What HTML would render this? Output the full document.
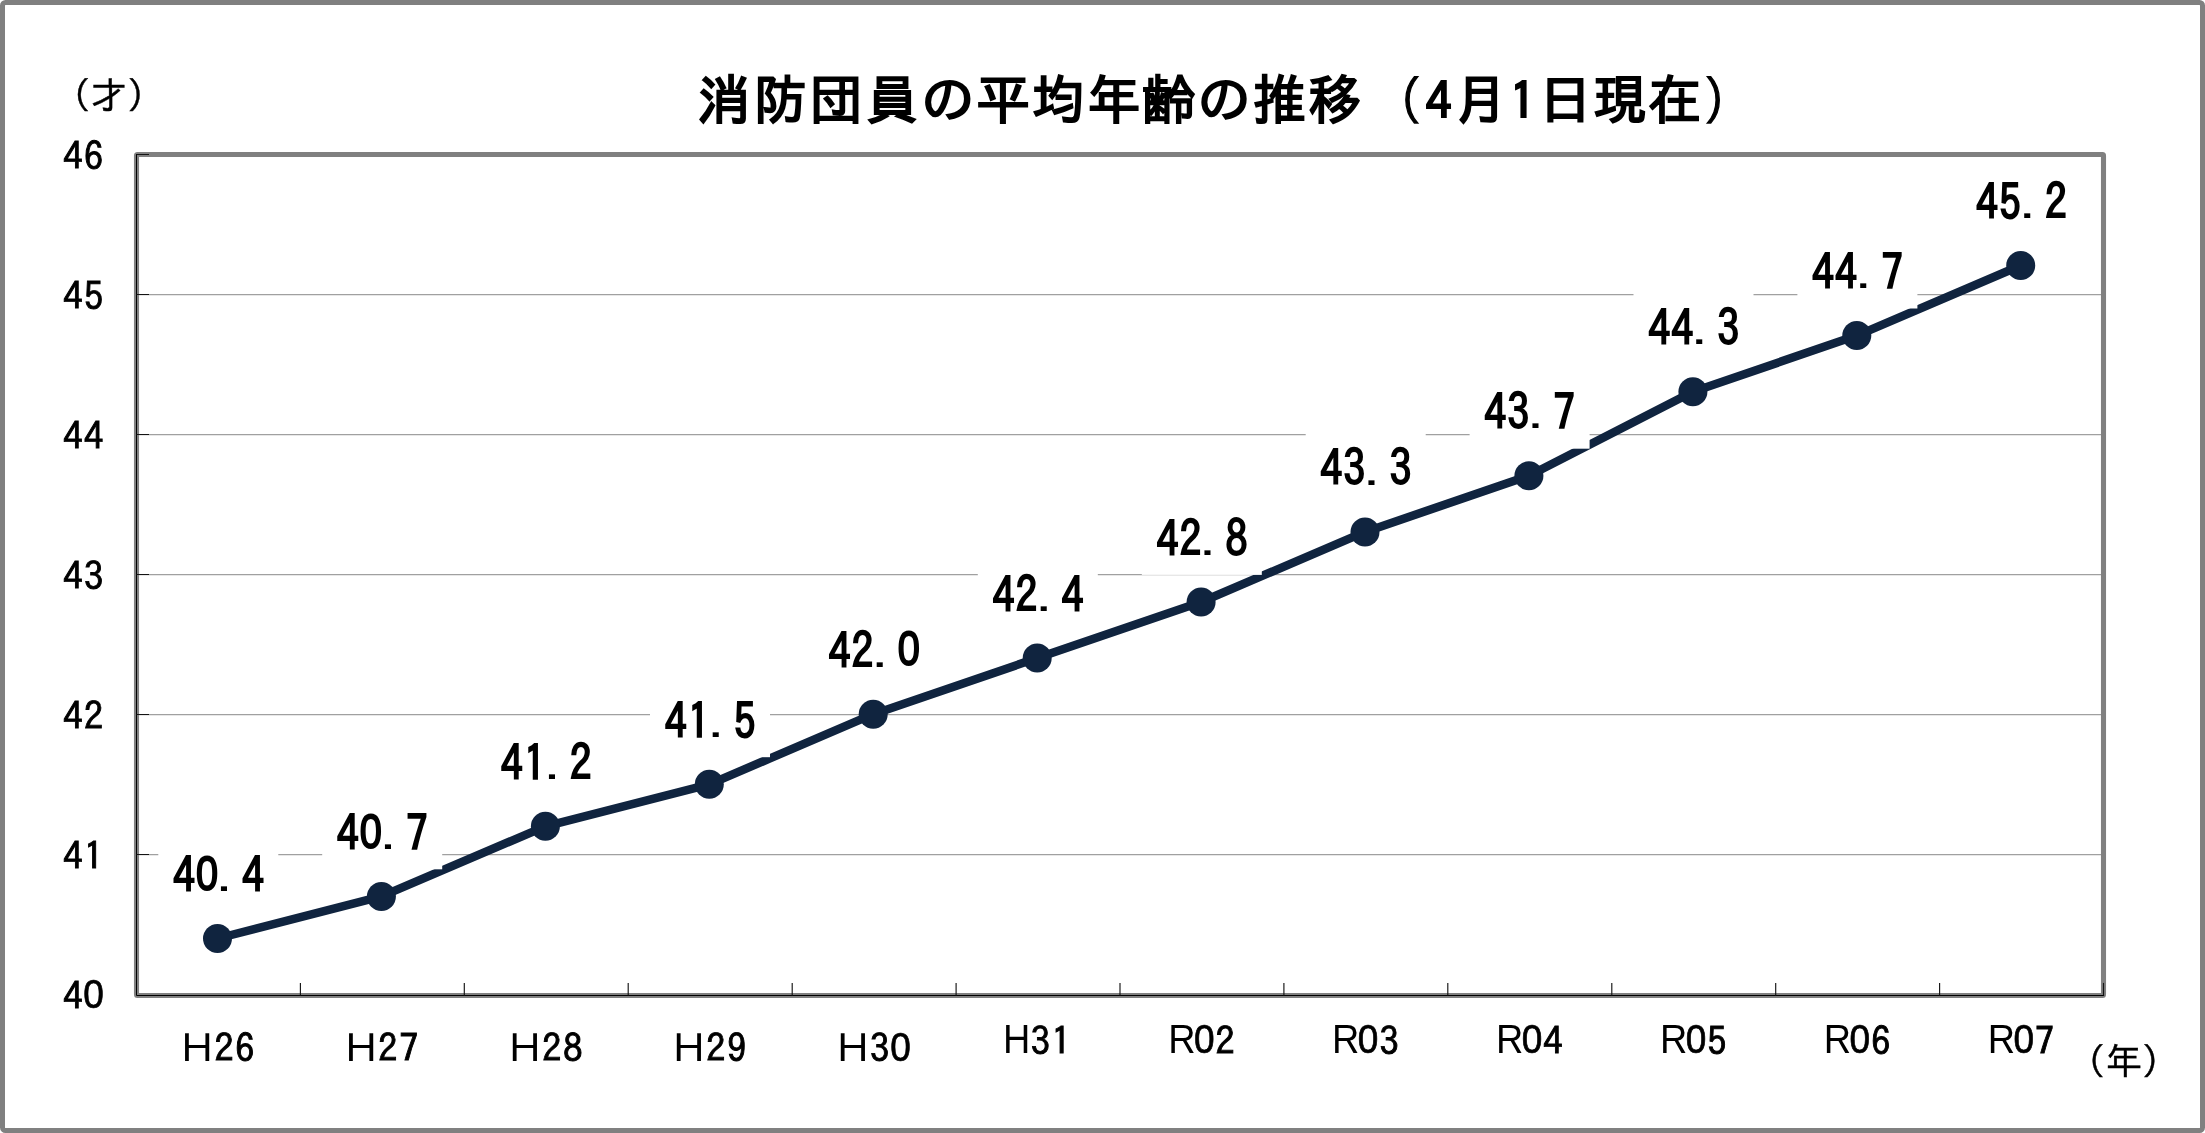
<!DOCTYPE html>
<html lang="ja">
<head>
<meta charset="utf-8">
<title>消防団員の平均年齢の推移</title>
<style>
html,body{margin:0;padding:0;background:#fff;}
body{width:2205px;height:1133px;overflow:hidden;}
svg{display:block;will-change:transform;}
text{font-family:"Liberation Sans","IPAGothic","Noto Sans CJK JP",sans-serif;fill:#000;}
.d,.dp,.a,.td{font-family:"IPAGothic","Liberation Sans",sans-serif;}
.z{font-family:"Liberation Sans",sans-serif;}
.t{font-size:53.33px;stroke:#000;stroke-width:2px;}
.td{font-size:51.1px;stroke:#000;stroke-width:2px;}
.tp{font-size:51.6px;stroke:#000;stroke-width:1.4px;}
.d{font-size:48.9px;stroke:#000;stroke-width:1.9px;}
.dz{font-family:"Liberation Sans",sans-serif;font-size:48.7px;stroke:#000;stroke-width:1.9px;}
.a{font-size:38.3px;stroke:#000;stroke-width:0.9px;}
.ah{font-size:39.5px;}
.az{font-family:"Liberation Sans",sans-serif;font-size:40.0px;stroke:#000;stroke-width:0.7px;}
.dp{font-size:35px;}
.l{font-family:"Liberation Sans",sans-serif;font-size:40.7px;}
.u{font-size:36.5px;stroke:#000;stroke-width:0.4px;}
</style>
</head>
<body>
<svg width="2205" height="1133" viewBox="0 0 2205 1133">
<rect x="0" y="0" width="2205" height="1133" fill="#fff"/>
<rect x="2.5" y="2.5" width="2200" height="1128" rx="3" ry="3" fill="none" stroke="#808080" stroke-width="5"/>
<line x1="136.5" y1="294.57" x2="2103.5" y2="294.57" stroke="#a0a0a0" stroke-width="1.14"/>
<line x1="136.5" y1="434.57" x2="2103.5" y2="434.57" stroke="#a0a0a0" stroke-width="1.14"/>
<line x1="136.5" y1="574.57" x2="2103.5" y2="574.57" stroke="#a0a0a0" stroke-width="1.14"/>
<line x1="136.5" y1="714.57" x2="2103.5" y2="714.57" stroke="#a0a0a0" stroke-width="1.14"/>
<line x1="136.5" y1="854.57" x2="2103.5" y2="854.57" stroke="#a0a0a0" stroke-width="1.14"/>
<rect x="136.5" y="154.5" width="1967.0" height="841.0" rx="1" fill="none" stroke="#808080" stroke-width="5.1"/>
<polyline points="136.5,154.0 136.5,995.5 2104.1,995.5" fill="none" stroke="#000" stroke-width="1"/>
<line x1="136.5" y1="154.5" x2="149.0" y2="154.5" stroke="#141414" stroke-width="1.05"/>
<line x1="136.5" y1="294.5" x2="149.0" y2="294.5" stroke="#141414" stroke-width="1.05"/>
<line x1="136.5" y1="434.5" x2="149.0" y2="434.5" stroke="#141414" stroke-width="1.05"/>
<line x1="136.5" y1="574.5" x2="149.0" y2="574.5" stroke="#141414" stroke-width="1.05"/>
<line x1="136.5" y1="714.5" x2="149.0" y2="714.5" stroke="#141414" stroke-width="1.05"/>
<line x1="136.5" y1="854.5" x2="149.0" y2="854.5" stroke="#141414" stroke-width="1.05"/>
<line x1="300.4" y1="982.9" x2="300.4" y2="995.5" stroke="#141414" stroke-width="1.15"/>
<line x1="464.3" y1="982.9" x2="464.3" y2="995.5" stroke="#141414" stroke-width="1.15"/>
<line x1="628.2" y1="982.9" x2="628.2" y2="995.5" stroke="#141414" stroke-width="1.15"/>
<line x1="792.2" y1="982.9" x2="792.2" y2="995.5" stroke="#141414" stroke-width="1.15"/>
<line x1="956.1" y1="982.9" x2="956.1" y2="995.5" stroke="#141414" stroke-width="1.15"/>
<line x1="1120.0" y1="982.9" x2="1120.0" y2="995.5" stroke="#141414" stroke-width="1.15"/>
<line x1="1283.9" y1="982.9" x2="1283.9" y2="995.5" stroke="#141414" stroke-width="1.15"/>
<line x1="1447.8" y1="982.9" x2="1447.8" y2="995.5" stroke="#141414" stroke-width="1.15"/>
<line x1="1611.8" y1="982.9" x2="1611.8" y2="995.5" stroke="#141414" stroke-width="1.15"/>
<line x1="1775.7" y1="982.9" x2="1775.7" y2="995.5" stroke="#141414" stroke-width="1.15"/>
<line x1="1939.6" y1="982.9" x2="1939.6" y2="995.5" stroke="#141414" stroke-width="1.15"/>
<line x1="2103.5" y1="982.9" x2="2103.5" y2="995.5" stroke="#141414" stroke-width="1.15"/>
<polyline points="217.5,938.5 381.4,896.4 545.4,826.3 709.3,784.3 873.2,714.2 1037.2,658.1 1201.1,602.0 1365.0,531.9 1528.9,475.8 1692.9,391.7 1856.8,335.6 2020.7,265.5" fill="none" stroke="#10243f" stroke-width="8.5" stroke-linejoin="round" stroke-linecap="round"/>
<circle cx="217.5" cy="938.5" r="14.5" fill="#10243f"/>
<circle cx="381.4" cy="896.4" r="14.5" fill="#10243f"/>
<circle cx="545.4" cy="826.3" r="14.5" fill="#10243f"/>
<circle cx="709.3" cy="784.3" r="14.5" fill="#10243f"/>
<circle cx="873.2" cy="714.2" r="14.5" fill="#10243f"/>
<circle cx="1037.2" cy="658.1" r="14.5" fill="#10243f"/>
<circle cx="1201.1" cy="602.0" r="14.5" fill="#10243f"/>
<circle cx="1365.0" cy="531.9" r="14.5" fill="#10243f"/>
<circle cx="1528.9" cy="475.8" r="14.5" fill="#10243f"/>
<circle cx="1692.9" cy="391.7" r="14.5" fill="#10243f"/>
<circle cx="1856.8" cy="335.6" r="14.5" fill="#10243f"/>
<circle cx="2020.7" cy="265.5" r="14.5" fill="#10243f"/>
<rect x="158.3" y="837.4" width="120" height="74" fill="#fff"/>
<rect x="322.2" y="795.3" width="120" height="74" fill="#fff"/>
<rect x="486.1" y="725.2" width="120" height="74" fill="#fff"/>
<rect x="650.0" y="683.2" width="120" height="74" fill="#fff"/>
<rect x="813.9" y="613.1" width="120" height="74" fill="#fff"/>
<rect x="977.8" y="557.0" width="120" height="74" fill="#fff"/>
<rect x="1141.8" y="500.9" width="120" height="74" fill="#fff"/>
<rect x="1305.7" y="430.8" width="120" height="74" fill="#fff"/>
<rect x="1469.6" y="374.7" width="120" height="74" fill="#fff"/>
<rect x="1633.5" y="290.6" width="120" height="74" fill="#fff"/>
<rect x="1797.4" y="234.5" width="120" height="74" fill="#fff"/>
<rect x="1961.3" y="164.4" width="120" height="74" fill="#fff"/>
<text><tspan class="d" x="173.16" y="893.11" textLength="21.52" lengthAdjust="spacingAndGlyphs">4</tspan><tspan class="dz" x="195.91" y="889.71" textLength="22.07" lengthAdjust="spacingAndGlyphs">0</tspan><tspan class="dp" x="216.86" y="891.21" textLength="22.75" lengthAdjust="spacingAndGlyphs">.</tspan><tspan class="d" x="242.25" y="893.11" textLength="21.52" lengthAdjust="spacingAndGlyphs">4</tspan></text>
<text><tspan class="d" x="337.07" y="851.05" textLength="21.52" lengthAdjust="spacingAndGlyphs">4</tspan><tspan class="dz" x="359.83" y="847.65" textLength="22.07" lengthAdjust="spacingAndGlyphs">0</tspan><tspan class="dp" x="380.77" y="849.15" textLength="22.75" lengthAdjust="spacingAndGlyphs">.</tspan><tspan class="d" x="406.16" y="851.05" textLength="21.52" lengthAdjust="spacingAndGlyphs">7</tspan></text>
<text><tspan class="d" x="500.99" y="780.94" textLength="21.52" lengthAdjust="spacingAndGlyphs">4</tspan><tspan class="d" x="524.02" y="780.94" textLength="21.52" lengthAdjust="spacingAndGlyphs">1</tspan><tspan class="dp" x="544.69" y="779.04" textLength="22.75" lengthAdjust="spacingAndGlyphs">.</tspan><tspan class="d" x="570.08" y="780.94" textLength="21.52" lengthAdjust="spacingAndGlyphs">2</tspan></text>
<text><tspan class="d" x="664.91" y="738.87" textLength="21.52" lengthAdjust="spacingAndGlyphs">4</tspan><tspan class="d" x="687.94" y="738.87" textLength="21.52" lengthAdjust="spacingAndGlyphs">1</tspan><tspan class="dp" x="708.61" y="736.97" textLength="22.75" lengthAdjust="spacingAndGlyphs">.</tspan><tspan class="d" x="734.00" y="738.87" textLength="21.52" lengthAdjust="spacingAndGlyphs">5</tspan></text>
<text><tspan class="d" x="828.82" y="668.76" textLength="21.52" lengthAdjust="spacingAndGlyphs">4</tspan><tspan class="d" x="851.85" y="668.76" textLength="21.52" lengthAdjust="spacingAndGlyphs">2</tspan><tspan class="dp" x="872.52" y="666.86" textLength="22.75" lengthAdjust="spacingAndGlyphs">.</tspan><tspan class="dz" x="897.64" y="665.36" textLength="22.07" lengthAdjust="spacingAndGlyphs">0</tspan></text>
<text><tspan class="d" x="992.74" y="612.67" textLength="21.52" lengthAdjust="spacingAndGlyphs">4</tspan><tspan class="d" x="1015.77" y="612.67" textLength="21.52" lengthAdjust="spacingAndGlyphs">2</tspan><tspan class="dp" x="1036.44" y="610.77" textLength="22.75" lengthAdjust="spacingAndGlyphs">.</tspan><tspan class="d" x="1061.83" y="612.67" textLength="21.52" lengthAdjust="spacingAndGlyphs">4</tspan></text>
<text><tspan class="d" x="1156.66" y="556.58" textLength="21.52" lengthAdjust="spacingAndGlyphs">4</tspan><tspan class="d" x="1179.69" y="556.58" textLength="21.52" lengthAdjust="spacingAndGlyphs">2</tspan><tspan class="dp" x="1200.36" y="554.68" textLength="22.75" lengthAdjust="spacingAndGlyphs">.</tspan><tspan class="d" x="1225.75" y="556.58" textLength="21.52" lengthAdjust="spacingAndGlyphs">8</tspan></text>
<text><tspan class="d" x="1320.57" y="486.47" textLength="21.52" lengthAdjust="spacingAndGlyphs">4</tspan><tspan class="d" x="1343.60" y="486.47" textLength="21.52" lengthAdjust="spacingAndGlyphs">3</tspan><tspan class="dp" x="1364.28" y="484.57" textLength="22.75" lengthAdjust="spacingAndGlyphs">.</tspan><tspan class="d" x="1389.66" y="486.47" textLength="21.52" lengthAdjust="spacingAndGlyphs">3</tspan></text>
<text><tspan class="d" x="1484.49" y="430.39" textLength="21.52" lengthAdjust="spacingAndGlyphs">4</tspan><tspan class="d" x="1507.52" y="430.39" textLength="21.52" lengthAdjust="spacingAndGlyphs">3</tspan><tspan class="dp" x="1528.19" y="428.49" textLength="22.75" lengthAdjust="spacingAndGlyphs">.</tspan><tspan class="d" x="1553.58" y="430.39" textLength="21.52" lengthAdjust="spacingAndGlyphs">7</tspan></text>
<text><tspan class="d" x="1648.41" y="346.25" textLength="21.52" lengthAdjust="spacingAndGlyphs">4</tspan><tspan class="d" x="1671.44" y="346.25" textLength="21.52" lengthAdjust="spacingAndGlyphs">4</tspan><tspan class="dp" x="1692.11" y="344.35" textLength="22.75" lengthAdjust="spacingAndGlyphs">.</tspan><tspan class="d" x="1717.50" y="346.25" textLength="21.52" lengthAdjust="spacingAndGlyphs">3</tspan></text>
<text><tspan class="d" x="1812.32" y="290.17" textLength="21.52" lengthAdjust="spacingAndGlyphs">4</tspan><tspan class="d" x="1835.35" y="290.17" textLength="21.52" lengthAdjust="spacingAndGlyphs">4</tspan><tspan class="dp" x="1856.03" y="288.27" textLength="22.75" lengthAdjust="spacingAndGlyphs">.</tspan><tspan class="d" x="1881.41" y="290.17" textLength="21.52" lengthAdjust="spacingAndGlyphs">7</tspan></text>
<text><tspan class="d" x="1976.24" y="220.06" textLength="21.52" lengthAdjust="spacingAndGlyphs">4</tspan><tspan class="d" x="1999.27" y="220.06" textLength="21.52" lengthAdjust="spacingAndGlyphs">5</tspan><tspan class="dp" x="2019.94" y="218.16" textLength="22.75" lengthAdjust="spacingAndGlyphs">.</tspan><tspan class="d" x="2045.33" y="220.06" textLength="21.52" lengthAdjust="spacingAndGlyphs">2</tspan></text>
<text><tspan class="a" x="63.17" y="169.60">4</tspan><tspan class="a" x="84.07" y="169.60">6</tspan></text>
<text><tspan class="a" x="63.17" y="309.60">4</tspan><tspan class="a" x="84.07" y="309.60">5</tspan></text>
<text><tspan class="a" x="63.17" y="449.60">4</tspan><tspan class="a" x="84.07" y="449.60">4</tspan></text>
<text><tspan class="a" x="63.17" y="589.60">4</tspan><tspan class="a" x="84.07" y="589.60">3</tspan></text>
<text><tspan class="a" x="63.17" y="729.60">4</tspan><tspan class="a" x="84.07" y="729.60">2</tspan></text>
<text><tspan class="a" x="63.17" y="869.60">4</tspan><tspan class="a" x="84.07" y="869.60">1</tspan></text>
<text><tspan class="a" x="63.17" y="1009.60">4</tspan><tspan class="az" x="83.36" y="1008.30" textLength="20.58" lengthAdjust="spacingAndGlyphs">0</tspan></text>
<text><tspan class="ah" x="176.06" y="1062.60" textLength="42.27" lengthAdjust="spacingAndGlyphs">Ｈ</tspan><tspan class="a" x="214.43" y="1061.80">2</tspan><tspan class="a" x="235.33" y="1061.80">6</tspan></text>
<text><tspan class="ah" x="339.98" y="1062.60" textLength="42.27" lengthAdjust="spacingAndGlyphs">Ｈ</tspan><tspan class="a" x="378.35" y="1061.80">2</tspan><tspan class="a" x="399.25" y="1061.80">7</tspan></text>
<text><tspan class="ah" x="503.89" y="1062.60" textLength="42.27" lengthAdjust="spacingAndGlyphs">Ｈ</tspan><tspan class="a" x="542.27" y="1061.80">2</tspan><tspan class="a" x="563.17" y="1061.80">8</tspan></text>
<text><tspan class="ah" x="667.81" y="1062.60" textLength="42.27" lengthAdjust="spacingAndGlyphs">Ｈ</tspan><tspan class="a" x="706.18" y="1061.80">2</tspan><tspan class="a" x="727.08" y="1061.80">9</tspan></text>
<text><tspan class="ah" x="831.73" y="1062.60" textLength="42.27" lengthAdjust="spacingAndGlyphs">Ｈ</tspan><tspan class="a" x="870.10" y="1061.80">3</tspan><tspan class="az" x="890.29" y="1060.50" textLength="20.58" lengthAdjust="spacingAndGlyphs">0</tspan></text>
<text><tspan class="l" x="1003.04" y="1053.20" textLength="27.33" lengthAdjust="spacingAndGlyphs">H</tspan><tspan class="a" x="1030.72" y="1054.70">3</tspan><tspan class="a" x="1051.62" y="1054.70">1</tspan></text>
<text><tspan class="l" x="1168.15" y="1053.20" textLength="27.33" lengthAdjust="spacingAndGlyphs">R</tspan><tspan class="az" x="1193.92" y="1053.40" textLength="20.58" lengthAdjust="spacingAndGlyphs">0</tspan><tspan class="a" x="1215.53" y="1054.70">2</tspan></text>
<text><tspan class="l" x="1332.07" y="1053.20" textLength="27.33" lengthAdjust="spacingAndGlyphs">R</tspan><tspan class="az" x="1357.84" y="1053.40" textLength="20.58" lengthAdjust="spacingAndGlyphs">0</tspan><tspan class="a" x="1379.45" y="1054.70">3</tspan></text>
<text><tspan class="l" x="1495.99" y="1053.20" textLength="27.33" lengthAdjust="spacingAndGlyphs">R</tspan><tspan class="az" x="1521.76" y="1053.40" textLength="20.58" lengthAdjust="spacingAndGlyphs">0</tspan><tspan class="a" x="1543.37" y="1054.70">4</tspan></text>
<text><tspan class="l" x="1659.90" y="1053.20" textLength="27.33" lengthAdjust="spacingAndGlyphs">R</tspan><tspan class="az" x="1685.67" y="1053.40" textLength="20.58" lengthAdjust="spacingAndGlyphs">0</tspan><tspan class="a" x="1707.28" y="1054.70">5</tspan></text>
<text><tspan class="l" x="1823.82" y="1053.20" textLength="27.33" lengthAdjust="spacingAndGlyphs">R</tspan><tspan class="az" x="1849.59" y="1053.40" textLength="20.58" lengthAdjust="spacingAndGlyphs">0</tspan><tspan class="a" x="1871.20" y="1054.70">6</tspan></text>
<text><tspan class="l" x="1987.74" y="1053.20" textLength="27.33" lengthAdjust="spacingAndGlyphs">R</tspan><tspan class="az" x="2013.51" y="1053.40" textLength="20.58" lengthAdjust="spacingAndGlyphs">0</tspan><tspan class="a" x="2035.12" y="1054.70">7</tspan></text>
<text class="u" x="54" y="107.8">（才）</text>
<text class="u" x="2068.7" y="1074">（年）</text>
<text><tspan class="t" y="119.2" x="697.3 753.5 809.6 865.8 920.9 976.2 1031.5 1086.7 1142.0 1197.3 1252.9 1308.2">消防団員の平均年齢の推移</tspan><tspan class="tp" x="1376.40" y="119.30" textLength="44.63" lengthAdjust="spacingAndGlyphs">（</tspan><tspan class="td" x="1425.70" y="120.00">4</tspan><tspan class="t" x="1453.90" y="119.20">月</tspan><tspan class="td" x="1510.00" y="120.00">1</tspan><tspan class="t" y="119.2" x="1538.5 1593.6 1648.0">日現在</tspan><tspan class="tp" x="1703.90" y="119.30" textLength="44.63" lengthAdjust="spacingAndGlyphs">）</tspan></text>
</svg>
</body>
</html>
